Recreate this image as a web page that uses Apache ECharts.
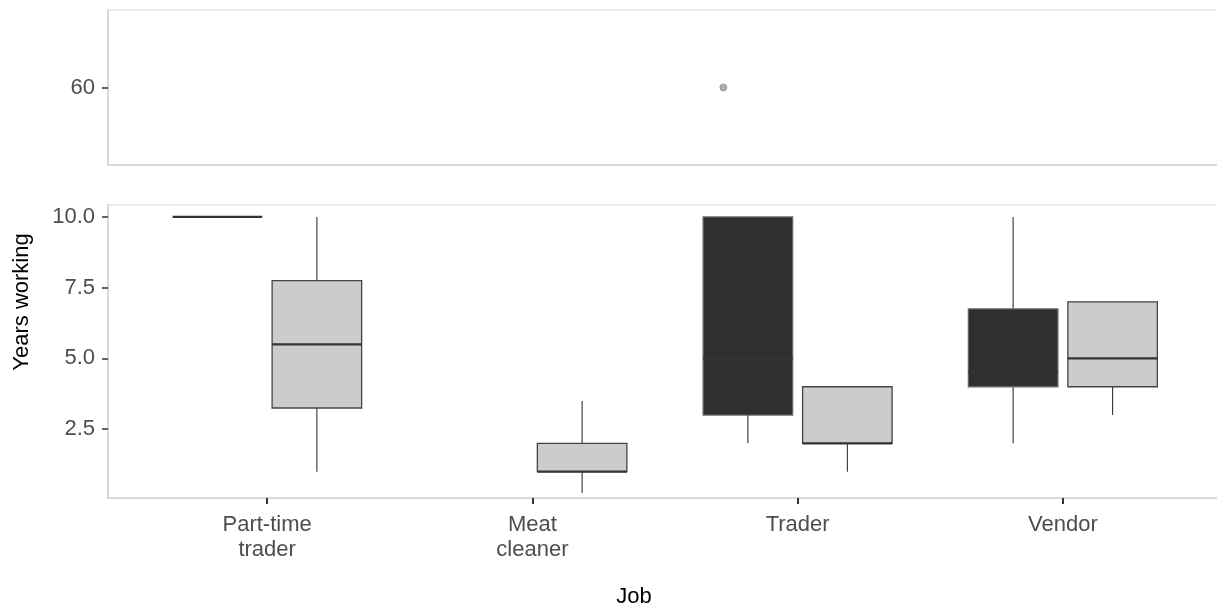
<!DOCTYPE html>
<html>
<head>
<meta charset="utf-8">
<script src="https://cdn.jsdelivr.net/npm/echarts@6/dist/echarts.min.js"></script>
<style>
  html, body { margin: 0; padding: 0; background: #fff; }
  #chart { width: 1217px; height: 608px; }
</style>
</head>
<body>
<div id="chart"></div>
<script>
const jobs = ['Part-time trader', 'Meat cleaner', 'Trader', 'Vendor']
// [min, Q1, median, Q3, max] for each job, null where the group has no data
const darkStats = [[10, 10, 10, 10, 10], null, [2, 3, 5, 10, 10], [2, 4, 4.5, 6.75, 10]]
const lightStats = [[1, 3.25, 5.5, 7.75, 10], [0.25, 1, 1, 2, 3.5], [1, 2, 2, 4, 4], [3, 4, 5, 7, 7]]
// outlier above the break, with its horizontal jitter (in category units)
const outliers = [{ job: 'Trader', years: 60, jitter: -0.28 }]
const yTicksLow = [2.5, 5, 7.5, 10]
const yTicksHigh = [60]

const font = "'Liberation Sans', Arial, sans-serif"
const dodge = 0.75       // like ggplot dodge2 width
const padding = 0.1
const boxWidth = dodge / 2 * (1 - padding)

function toBoxData(stats, side) {
  const out = []
  stats.forEach((s, i) => {
    if (s) out.push([i + side * dodge / 4, ...s])
  })
  return out
}

function boxRenderer(fill, edge) {
  return function (params, api) {
    const x = api.value(0)
    const lo = api.coord([x, api.value(1)])
    const q1 = api.coord([x, api.value(2)])
    const med = api.coord([x, api.value(3)])
    const q3 = api.coord([x, api.value(4)])
    const hi = api.coord([x, api.value(5)])
    const w = api.size([boxWidth, 0])[0]
    const cx = lo[0]
    const left = cx - w / 2
    return {
      type: 'group',
      children: [
        { type: 'line', shape: { x1: cx, y1: hi[1], x2: cx, y2: q3[1] }, style: { stroke: '#333', lineWidth: 1.1 } },
        { type: 'line', shape: { x1: cx, y1: q1[1], x2: cx, y2: lo[1] }, style: { stroke: '#333', lineWidth: 1.1 } },
        { type: 'rect', shape: { x: left, y: q3[1], width: w, height: q1[1] - q3[1] }, style: { fill: fill, stroke: edge, lineWidth: 1.3 } },
        { type: 'line', shape: { x1: left, y1: med[1], x2: left + w, y2: med[1] }, style: { stroke: '#333', lineWidth: 2.2 } }
      ]
    }
  }
}

const chart = echarts.init(document.getElementById('chart'))

const borderGrey = '#d9d9d9'
const xCommon = {
  type: 'value', min: -0.6, max: 3.6,
  splitLine: { show: false },
  axisLine: { show: true, onZero: false, lineStyle: { color: borderGrey, width: 2 } }
}
const yCommon = {
  type: 'value',
  splitLine: { show: false },
  axisLine: { show: true, onZero: false, lineStyle: { color: borderGrey, width: 2 } },
  axisTick: { show: true, length: 6, lineStyle: { color: '#333', width: 1.5 } },
  axisLabel: { margin: 13, color: '#4d4d4d', fontSize: 22, fontFamily: font }
}

chart.setOption({
  animation: false,
  grid: [
    { left: 108, right: -5, top: 10, height: 155, show: true, borderColor: borderGrey, borderWidth: 1, outerBoundsMode: 'none' },
    { left: 108, right: -5, top: 205, height: 293, show: true, borderColor: borderGrey, borderWidth: 1, outerBoundsMode: 'none' }
  ],
  xAxis: [
    Object.assign({}, xCommon, { gridIndex: 0, axisTick: { show: false }, axisLabel: { show: false } }),
    Object.assign({}, xCommon, {
      gridIndex: 1,
      axisTick: { show: true, length: 6, customValues: jobs.map((j, i) => i), lineStyle: { color: '#333', width: 2 } },
      axisLabel: {
        customValues: jobs.map((j, i) => i),
        formatter: v => jobs[Math.round(v)].split(' ').join('\n'),
        margin: 14, lineHeight: 25, color: '#4d4d4d', fontSize: 22, fontFamily: font
      }
    })
  ],
  yAxis: [
    Object.assign({}, yCommon, {
      gridIndex: 0, min: 55, max: 65,
      axisTick: Object.assign({}, yCommon.axisTick, { customValues: yTicksHigh }),
      axisLabel: Object.assign({}, yCommon.axisLabel, { customValues: yTicksHigh })
    }),
    Object.assign({}, yCommon, {
      gridIndex: 1, min: 0.07, max: 10.42,
      axisTick: Object.assign({}, yCommon.axisTick, { customValues: yTicksLow }),
      axisLabel: Object.assign({}, yCommon.axisLabel, { customValues: yTicksLow, formatter: v => v.toFixed(1) })
    })
  ],
  graphic: [
    { type: 'text', x: 22, y: 302, rotation: Math.PI / 2,
      style: { text: 'Years working', fill: '#000', font: '22px ' + font, align: 'center', verticalAlign: 'middle' } },
    { type: 'text', x: 634, y: 597,
      style: { text: 'Job', fill: '#000', font: '22px ' + font, align: 'center', verticalAlign: 'middle' } }
  ],
  series: [
    {
      name: 'dark', type: 'custom', xAxisIndex: 1, yAxisIndex: 1, clip: true,
      renderItem: boxRenderer('#2f2f2f', '#666'),
      encode: { x: 0, y: [1, 2, 3, 4, 5] },
      data: toBoxData(darkStats, -1)
    },
    {
      name: 'light', type: 'custom', xAxisIndex: 1, yAxisIndex: 1, clip: true,
      renderItem: boxRenderer('#cccccc', '#444'),
      encode: { x: 0, y: [1, 2, 3, 4, 5] },
      data: toBoxData(lightStats, 1)
    },
    {
      name: 'outlier', type: 'scatter', xAxisIndex: 0, yAxisIndex: 0,
      symbolSize: 7,
      itemStyle: { color: '#9a9a9a', borderColor: '#808080', borderWidth: 0.8 },
      data: outliers.map(o => [jobs.indexOf(o.job) + o.jitter, o.years])
    }
  ]
})
</script>
</body>
</html>
